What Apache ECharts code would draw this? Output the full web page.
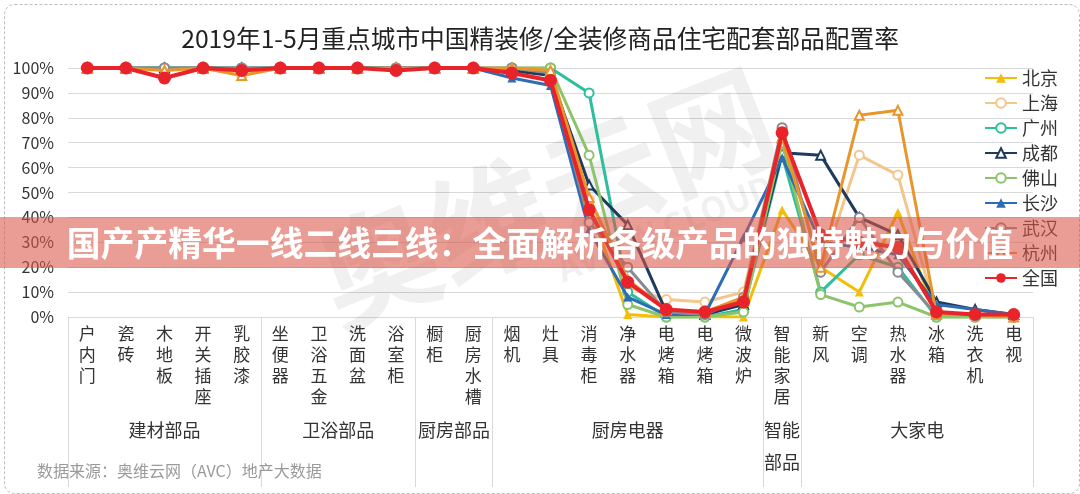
<!DOCTYPE html>
<html><head><meta charset="utf-8">
<script src="https://cdn.jsdelivr.net/npm/echarts@6/dist/echarts.min.js"></script>
<style>html,body{margin:0;padding:0;background:#fff}#c{width:1080px;height:494px}</style>
</head><body><div id="c"></div>
<script>
const titleText = '2019年1-5月重点城市中国精装修/全装修商品住宅配套部品配置率';
const categories = ['户内门','瓷砖','木地板','开关插座','乳胶漆','坐便器','卫浴五金','洗面盆','浴室柜','橱柜','厨房水槽','烟机','灶具','消毒柜','净水器','电烤箱','电烤箱','微波炉','智能家居','新风','空调','热水器','冰箱','洗衣机','电视'];
const groupNames = ['建材部品','卫浴部品','厨房部品','厨房电器','智能\n部品','大家电'];
const groupSizes = [5,4,2,7,1,6];
const yTicks = [0,10,20,30,40,50,60,70,80,90,100];

const beijing  = [100,100,100,100,100,100,100,100,100,100,100,100,100,45,1,0,0,0,43,20,10,42,0,0,0];
const shanghai = [100,100,100,100,97,100,100,100,100,100,100,100,100,47,12,7,6,10,76,18,65,57,1,0,0];
const guangzhou= [100,100,100,100,100,100,100,100,100,100,100,100,100,90,10,0,0,3,65,10,25,20,0,0,0];
const chengdu  = [100,100,100,100,100,100,100,100,100,100,100,99,97,53,37,2,1,5,66,65,40,33,6,3,1];
const foshan   = [100,100,100,100,100,100,100,100,100,100,100,100,100,65,5,0,0,2,70,9,4,6,0,0,0];
const changsha = [100,100,100,100,100,100,100,100,100,100,100,96,93,35,8,1,1,32,64,30,28,25,5,3,1];
const wuhan    = [100,100,100,100,100,100,100,100,100,100,100,100,98,38,20,2,1,8,76,18,40,18,1,1,0];
const hangzhou = [100,100,99,100,97,100,100,100,100,100,100,100,99,48,15,3,2,8,72,20,81,83,1,1,0];
const quanguo  = [100,100,96,100,99,100,100,100,99,100,100,98,95,43,14,3,2,6,74,33,30,28,2,1,1];

const FONT = '"Noto Sans CJK SC","Noto Sans",sans-serif';
const seriesDefs = [
  {name:'北京', data:beijing,  color:'#F2BE0A', symbol:'triangle'},
  {name:'上海', data:shanghai, color:'#F3C68C', symbol:'emptyCircle'},
  {name:'广州', data:guangzhou,color:'#2DBE9C', symbol:'emptyCircle'},
  {name:'成都', data:chengdu,  color:'#1E3A5C', symbol:'emptyTriangle'},
  {name:'佛山', data:foshan,   color:'#8CC46C', symbol:'emptyCircle'},
  {name:'长沙', data:changsha, color:'#2E6DB4', symbol:'triangle'},
  {name:'武汉', data:wuhan,    color:'#8A8A96', symbol:'emptyCircle'},
  {name:'杭州', data:hangzhou, color:'#E8962C', symbol:'emptyTriangle'},
  {name:'全国', data:quanguo,  color:'#E8232A', symbol:'circle'}
];

// group boundaries and centres on a 0..N value axis aligned with the category bands
const bounds = [0]; groupSizes.forEach(s => bounds.push(bounds[bounds.length-1] + s));
const centers = groupSizes.map((s,i) => bounds[i] + s/2);

const chart = echarts.init(document.getElementById('c'));
chart.setOption({
  backgroundColor:'#fff',
  animation:false,
  textStyle:{fontFamily:FONT},
  title:{text:titleText, left:'center', top:26, padding:0,
    textStyle:{fontSize:24.7, fontWeight:'normal', color:'#222', fontFamily:FONT}},
  legend:{orient:'vertical', right:22, top:69, padding:0, itemWidth:32, itemHeight:12, itemGap:7,
    textStyle:{fontSize:18, color:'#333', fontFamily:FONT}, data:seriesDefs.map(d=>d.name)},
  grid:{left:68, right:47, top:68, bottom:177, containLabel:false},
  xAxis:[{
    type:'category', data:categories, boundaryGap:true,
    axisLine:{show:true, lineStyle:{color:'#d9d9d9', width:1}},
    axisTick:{show:false},
    axisLabel:{interval:0, margin:6, fontSize:17, lineHeight:21, color:'#333', fontFamily:FONT,
      verticalAlign:'top', formatter:v => v.split('').join('\n')}
  },{
    type:'value', min:0, max:categories.length, position:'bottom',
    axisLine:{show:false}, splitLine:{show:false},
    axisTick:{show:true, inside:false, length:170, customValues:bounds, lineStyle:{color:'#d9d9d9', width:1}},
    axisLabel:{show:true, customValues:centers, margin:97, fontSize:18, lineHeight:32, color:'#333', fontFamily:FONT,
      verticalAlign:'top', formatter:v => { const i = centers.indexOf(v); return i>=0 ? groupNames[i] : ''; }}
  }],
  yAxis:{type:'value', min:yTicks[0], max:yTicks[yTicks.length-1], interval:10,
    axisLine:{show:false}, axisTick:{show:false},
    axisLabel:{margin:14, fontSize:16, color:'#333', fontFamily:FONT, formatter:'{value}%'},
    splitLine:{lineStyle:{color:'#d9d9d9', width:1}}},
  series:seriesDefs.map((d,i)=>({
    name:d.name, type:'line', data:d.data, xAxisIndex:0,
    symbol:d.symbol, symbolSize:d.name==='全国'?13:9,
    itemStyle:{color:d.color, borderWidth:d.symbol.indexOf('empty')===0?2:1},
    lineStyle:{color:d.color, width:d.name==='全国'?4:3},
    z:2+i
  })),
  graphic:[
    {type:'rect', left:2, top:2, z:0, silent:true,
      shape:{width:1075, height:489, r:10}, style:{fill:null, stroke:'#bdbdbd', lineWidth:1, lineDash:[3,2]}},
    {type:'text', x:545, y:198, rotation:0.38, z:1, silent:true,
      style:{text:'奥维云网', fontSize:120, fontWeight:'bold', fill:'rgba(0,0,0,0.06)', align:'center', verticalAlign:'middle', fontFamily:FONT}},
    {type:'text', x:665, y:228, rotation:0.38, z:1, silent:true,
      style:{text:'AVIEW CLOUD', fontSize:34, fontWeight:'bold', fill:'rgba(0,0,0,0.06)', align:'center', verticalAlign:'middle', fontFamily:FONT}},
    {type:'text', left:37, top:463, z:5, silent:true,
      style:{text:'数据来源：奥维云网（AVC）地产大数据', fontSize:16, fill:'#9a9a9a', fontFamily:FONT}},
    {type:'rect', left:0, top:217, z:100, silent:true,
      shape:{width:1080, height:51}, style:{fill:'rgba(218,86,70,0.58)'}},
    {type:'text', x:540, y:243, z:101, silent:true,
      style:{text:'国产产精华一线二线三线：全面解析各级产品的独特魅力与价值', fontSize:33.8, fontWeight:'bold', fill:'#fff',
        align:'center', verticalAlign:'middle', fontFamily:FONT}}
  ]
});
</script></body></html>
